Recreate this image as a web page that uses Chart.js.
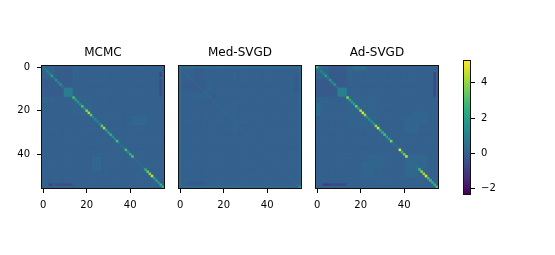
<!DOCTYPE html>
<html>
<head>
<meta charset="utf-8">
<title>Covariance heatmaps</title>
<script src="https://cdn.jsdelivr.net/npm/chart.js@4"></script>
<style>
  html, body { margin: 0; padding: 0; background: #fff; width: 555px; height: 255px; overflow: hidden; }
  canvas { position: absolute; }
</style>
</head>
<body>
<canvas id="mcmc" style="left:10px;top:46px"></canvas>
<canvas id="med" style="left:147px;top:46px"></canvas>
<canvas id="ad" style="left:284px;top:46px"></canvas>
<canvas id="bar" style="left:455px;top:40px"></canvas>
<script>
const titles = ["MCMC", "Med-SVGD", "Ad-SVGD"];
const matrixSize = 56;
const axisTicks = [0, 20, 40];
const colorbarTicks = [-2, 0, 2, 4];
const colorMin = -2.32;
const colorMax = 5.24;

// base level of each matrix
const mcmcBase = 0;
const medBase = 0;
const adBase = 0;

// diagonal
const mcmcDiagonal = [0.3, 0.6, 1.0, 0.9, 2.0, 0.7, 1.5, 1.1, 1.5, 0.4, 0.9, 0.9, 0.9, 0.9,
  3.0, 2.0, 1.8, 1.5, 3.2, 1.5, 3.8, 4.3, 3.3, 1.2, 1.2, 1.0, 1.0, 3.4,
  4.3, 2.0, 2.0, 2.6, 1.5, 1.4, 3.0, 0.5, 0.4, 0.5, 3.0, 1.5, 2.5, 3.2,
  0.3, 0.3, 0.3, 0.3, 0.5, 2.4, 3.4, 4.0, 4.7, 2.0, 2.0, 1.8, 2.4, 2.7];
const medDiagonal = [0.6, 0.1, 0.1, 0.1, 0.2, 0.1, 0.1, 0.1, 0.1, 0.1, 0.1, 0.1, 0.2, 0.1,
  0.2, 0.1, 0.1, 0.1, 0.1, 0.1, 0.2, 0.2, 0.1, 0.1, 0.2, 0.2, 0.1, 0.1,
  0.1, 0.1, 0.1, 0.1, 0.1, 0.1, 0.1, 0.1, 0.1, 0.1, 0.1, 0.1, 0.1, 0.1,
  0.1, 0.1, 0.1, 0.1, 0.1, 0.1, 0.1, 0.1, 0.1, 0.1, 0.1, 0.1, 0.3, 1.6];
const adDiagonal = [2.8, 0.5, 1.2, 1.0, 2.0, 0.7, 1.8, 1.2, 1.8, 0.4, 1.0, 1.0, 1.0, 1.0,
  3.8, 2.0, 2.0, 2.0, 3.5, 2.0, 4.5, 5.0, 4.0, 1.5, 1.5, 1.5, 1.5, 4.0,
  5.0, 2.5, 2.5, 3.0, 2.0, 2.0, 3.8, 0.3, 0.3, 0.3, 5.0, 2.5, 3.5, 4.7,
  0.3, 0.3, 0.3, 0.3, 0.5, 3.0, 4.0, 4.2, 5.0, 3.0, 3.0, 2.5, 2.5, 3.0];

// off-diagonal blocks: first row, last row, first col, last col, value (mirrored)
const mcmcBlocks = [
  [10, 13, 10, 13, 0.9], [6, 13, 0, 13, -0.1], [0, 5, 3, 16, 0.08],
  [42, 47, 23, 26, 0.16], [23, 26, 40, 45, 0.12], [6, 13, 54, 54, -0.5],
  [54, 54, 3, 4, -0.75], [54, 54, 7, 13, -0.75], [6, 6, 7, 7, -0.75], [7, 7, 8, 8, -0.75],
  [6, 6, 8, 8, 1.2], [14, 22, 14, 22, 0.08]
];
const medBlocks = [
  [0, 55, 0, 0, 0.25], [55, 55, 0, 55, 0.2], [0, 0, 0, 55, 0.16], [0, 55, 55, 55, 0.16],
  [7, 10, 1, 11, -0.1], [7, 10, 13, 14, 0.12], [3, 5, 25, 25, 0.14],
  [16, 20, 25, 25, 0.12], [27, 30, 25, 25, 0.12], [53, 54, 4, 11, -0.14], [15, 16, 13, 14, -0.16]
];
const adBlocks = [
  [10, 13, 10, 13, 1.0], [6, 13, 0, 13, -0.16], [0, 5, 3, 16, 0.1], [0, 0, 0, 20, 0.35],
  [14, 22, 0, 1, 0.35], [44, 50, 21, 25, 0.18], [42, 50, 41, 46, 0.2], [24, 30, 41, 46, 0.14],
  [6, 13, 54, 54, -0.6], [54, 54, 3, 13, -0.85], [6, 6, 7, 7, -1.1], [7, 7, 8, 8, -1.1],
  [6, 6, 8, 8, 1.5], [14, 22, 14, 22, 0.1], [14, 25, 24, 27, 0.1]
];

const viridisStops = ["#440154", "#482878", "#3e4989", "#31688e", "#26828e", "#1f9e89", "#35b779", "#6ece58", "#b5de2b", "#fde725"];

function hexToRgb(hex) {
  return [1, 3, 5].map((i) => parseInt(hex.slice(i, i + 2), 16));
}

function viridis(value) {
  const t = Math.min(1, Math.max(0, (value - colorMin) / (colorMax - colorMin))) * (viridisStops.length - 1);
  const i = Math.min(viridisStops.length - 2, Math.floor(t));
  const a = hexToRgb(viridisStops[i]);
  const b = hexToRgb(viridisStops[i + 1]);
  const c = a.map((v, k) => Math.round(v + (b[k] - v) * (t - i)));
  return `rgb(${c[0]},${c[1]},${c[2]})`;
}

function buildCells(base, blocks, diagonal) {
  const grid = [];
  for (let r = 0; r < matrixSize; r++) grid.push(new Array(matrixSize).fill(base));
  blocks.slice().reverse().forEach(([r0, r1, c0, c1, v]) => {
    for (let r = r0; r <= r1; r++) {
      for (let c = c0; c <= c1; c++) { grid[r][c] = v; grid[c][r] = v; }
    }
  });
  diagonal.forEach((v, i) => { grid[i][i] = v; });
  const cells = [];
  grid.forEach((row, r) => row.forEach((v, c) => cells.push({ x: c, y: r, v })));
  // strong cells last, so their neighbours do not paint over them
  return cells.sort((a, b) => Math.abs(a.v - base) - Math.abs(b.v - base));
}

// squares overlap a little, the base colour hides what is left of the seams
const baseFill = {
  id: "baseFill",
  beforeDatasetsDraw(chart, args, opts) {
    const { ctx, chartArea: a } = chart;
    ctx.save();
    ctx.fillStyle = opts.color;
    ctx.fillRect(a.left, a.top, a.right - a.left, a.bottom - a.top);
    ctx.restore();
  },
};

const frame = {
  id: "frame",
  afterDraw(chart) {
    const { ctx, chartArea: a } = chart;
    ctx.save();
    ctx.strokeStyle = "#111";
    ctx.lineWidth = 1;
    ctx.strokeRect(a.left - 0.5, a.top - 0.5, a.right - a.left + 1, a.bottom - a.top + 1);
    ctx.restore();
  },
};

function fixedTicks(values) {
  return (axis) => { axis.ticks = values.map((value) => ({ value })); };
}

function buildPanel(id, title, cells, base, showY) {
  const canvas = document.getElementById(id);
  canvas.width = 32 + 122 + 32;
  canvas.height = 170;
  const side = showY ? 0 : 32;
  return new Chart(canvas, {
    type: "scatter",
    data: {
      datasets: [{
        data: cells,
        pointStyle: "rect",
        pointRadius: 1.8,
        pointHoverRadius: 1.8,
        pointBorderWidth: 0,
        backgroundColor: cells.map((c) => viridis(c.v)),
      }],
    },
    options: {
      animation: false,
      responsive: false,
      devicePixelRatio: 1,
      layout: { padding: { left: side, right: side, top: 0, bottom: 0 } },
      events: [],
      plugins: {
        baseFill: { color: viridis(base) },
        legend: { display: false },
        tooltip: { enabled: false },
        title: {
          display: true,
          text: title,
          color: "#000",
          font: { family: "DejaVu Sans", size: 12, weight: "normal", lineHeight: 14 / 12 },
          padding: { top: 0, bottom: 6 },
        },
      },
      scales: {
        x: {
          type: "linear",
          min: -0.5,
          max: matrixSize - 0.5,
          afterBuildTicks: fixedTicks(axisTicks),
          afterFit: (s) => { s.height = 28; },
          grid: { drawOnChartArea: false, tickLength: 5, tickColor: "#000", tickWidth: 1 },
          border: { display: false },
          ticks: { color: "#000", maxRotation: 0, padding: 6, autoSkip: false, font: { family: "DejaVu Sans", size: 10 } },
        },
        y: {
          type: "linear",
          display: showY,
          reverse: true,
          min: -0.5,
          max: matrixSize - 0.5,
          afterBuildTicks: fixedTicks(axisTicks),
          afterFit: (s) => { if (showY) s.width = 32; },
          grid: { drawOnChartArea: false, tickLength: 5, tickColor: "#000", tickWidth: 1 },
          border: { display: false },
          ticks: { color: "#000", padding: 7, autoSkip: false, font: { family: "DejaVu Sans", size: 10 } },
        },
        // empty axis on the right, balances the left one so the title stays centred on the plot
        spacer: {
          type: "linear",
          position: "right",
          display: showY,
          afterFit: (s) => { if (showY) s.width = 32; },
          grid: { display: false },
          border: { display: false },
          ticks: { display: false },
        },
      },
    },
    plugins: [baseFill, frame],
  });
}

buildPanel("mcmc", titles[0], buildCells(mcmcBase, mcmcBlocks, mcmcDiagonal), mcmcBase, true);
buildPanel("med", titles[1], buildCells(medBase, medBlocks, medDiagonal), medBase, false);
buildPanel("ad", titles[2], buildCells(adBase, adBlocks, adDiagonal), adBase, false);

// colorbar
const barCanvas = document.getElementById("bar");
barCanvas.width = 50;
barCanvas.height = 170;
new Chart(barCanvas, {
  type: "bar",
  data: {
    labels: [""],
    datasets: [{
      data: [[colorMin, colorMax]],
      barPercentage: 1,
      categoryPercentage: 1,
      backgroundColor: (ctx) => {
        const a = ctx.chart.chartArea;
        if (!a) return viridisStops[0];
        const g = ctx.chart.ctx.createLinearGradient(0, a.bottom, 0, a.top);
        viridisStops.forEach((c, i) => g.addColorStop(i / (viridisStops.length - 1), c));
        return g;
      },
    }],
  },
  options: {
    animation: false,
    responsive: false,
    devicePixelRatio: 1,
    events: [],
    layout: { padding: { left: 9, right: 0, top: 21, bottom: 16 } },
    plugins: { legend: { display: false }, tooltip: { enabled: false } },
    scales: {
      x: { display: false },
      y: {
        position: "right",
        min: colorMin,
        max: colorMax,
        afterBuildTicks: fixedTicks(colorbarTicks),
        afterFit: (s) => { s.width = 35; },
        grid: { drawOnChartArea: false, tickLength: 5, tickColor: "#000", tickWidth: 1 },
        border: { display: false },
        ticks: {
          color: "#000",
          padding: 6,
          autoSkip: false,
          font: { family: "DejaVu Sans", size: 10 },
          callback: (v) => String(v).replace("-", "\u2212"),
        },
      },
    },
  },
  plugins: [frame],
});
</script>
</body>
</html>
